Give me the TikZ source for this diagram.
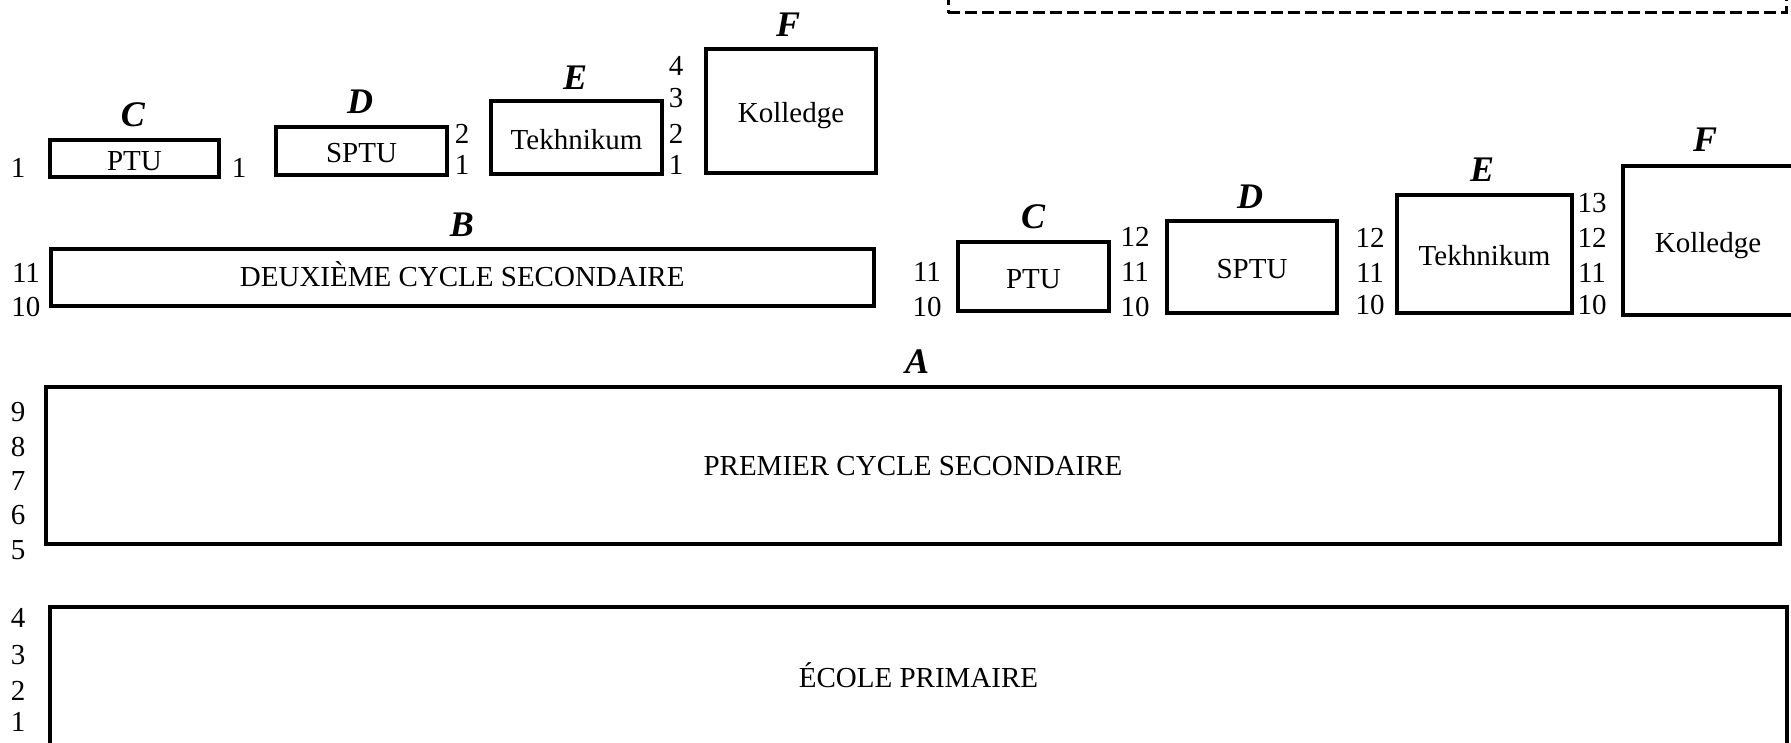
\documentclass[tikz,border=0pt]{standalone}
\usepackage{fontspec}
\setmainfont{Liberation Serif}
\begin{document}
\begin{tikzpicture}[x=1pt,y=-1pt,
  box/.style={draw, line width=4pt, inner sep=0pt, font=\fontsize{29}{34}\selectfont, text height=19pt, text depth=0pt},
  sbox/.style={box, text height=24pt},
  lab/.style={font=\fontsize{36}{40}\selectfont\bfseries\itshape, inner sep=0pt},
  num/.style={font=\fontsize{29}{34}\selectfont, inner sep=0pt},
  dbox/.style={draw, line width=3pt, dash pattern=on 12pt off 5pt, inner sep=0pt}]
\useasboundingbox (0,0) rectangle (1791,743);
\clip (0,0) rectangle (1791,743);

% dashed box at the top (cut off)
\node[dbox, minimum width=838pt, minimum height=73pt] (top) at (1367,-23.5) {};

% left upper group
\node[sbox, minimum width=169pt, minimum height=37pt] (ptuL) at (134.5,158.5) {PTU};
\node[sbox, minimum width=171pt, minimum height=48pt] (sptuL) at (361.5,151) {SPTU};
\node[sbox, minimum width=171pt, minimum height=73pt] (tekL) at (576.5,137.5) {Tekhnikum};
\node[sbox, minimum width=170pt, minimum height=124pt] (kolL) at (791,111) {Kolledge};
\node[lab] (cL) at (133,115) {C};
\node[lab] (dL) at (360,102) {D};
\node[lab] (eL) at (575,78) {E};
\node[lab] (fL) at (788,25) {F};
\node[num] (nL1) at (18,168) {1};
\node[num] (nL2) at (239,168) {1};
\node[num] (nL3) at (462,134) {2};
\node[num] (nL4) at (462,165) {1};
\node[num] (nL5) at (676,66) {4};
\node[num] (nL6) at (676,98) {3};
\node[num] (nL7) at (676,134) {2};
\node[num] (nL8) at (676,165) {1};

% B
\node[box, minimum width=823.5pt, minimum height=57pt] (bbox) at (462.25,277.5) {DEUXIÈME CYCLE SECONDAIRE};
\node[lab] (bl) at (462,225) {B};
\node[num] (nB1) at (26,273) {11};
\node[num] (nB2) at (26,307) {10};

% right group
\node[sbox, minimum width=151pt, minimum height=69pt] (ptuR) at (1033.5,276.5) {PTU};
\node[sbox, minimum width=170pt, minimum height=92pt] (sptuR) at (1252,267) {SPTU};
\node[sbox, minimum width=175pt, minimum height=118pt] (tekR) at (1484.5,254) {Tekhnikum};
\node[sbox, minimum width=170pt, minimum height=149pt] (kolR) at (1708,240.5) {Kolledge};
\node[lab] (cR) at (1033,217) {C};
\node[lab] (dR) at (1250,197) {D};
\node[lab] (eR) at (1482,170) {E};
\node[lab] (fR) at (1705,140) {F};
\node[num] (r1) at (927,272) {11};
\node[num] (r2) at (927,307) {10};
\node[num] (r3) at (1135,237) {12};
\node[num] (r4) at (1135,272) {11};
\node[num] (r5) at (1135,307) {10};
\node[num] (r6) at (1370,238) {12};
\node[num] (r7) at (1370,273) {11};
\node[num] (r8) at (1370,305) {10};
\node[num] (r9) at (1592,203) {13};
\node[num] (r10) at (1592,238) {12};
\node[num] (r11) at (1592,273) {11};
\node[num] (r12) at (1592,305) {10};

% A
\node[box, minimum width=1734pt, minimum height=157pt] (abox) at (913,465.5) {PREMIER CYCLE SECONDAIRE};
\node[lab] (al) at (917,362) {A};
\node[num] (a9) at (18,412) {9};
\node[num] (a8) at (18,446.5) {8};
\node[num] (a7) at (18,481) {7};
\node[num] (a6) at (18,515.5) {6};
\node[num] (a5) at (18,550) {5};

% primary
\node[box, minimum width=1737pt, minimum height=142pt] (pbox) at (918.5,678) {ÉCOLE PRIMAIRE};
\node[num] (p4) at (18,618) {4};
\node[num] (p3) at (18,655) {3};
\node[num] (p2) at (18,691) {2};
\node[num] (p1) at (18,722) {1};
\end{tikzpicture}
\end{document}
